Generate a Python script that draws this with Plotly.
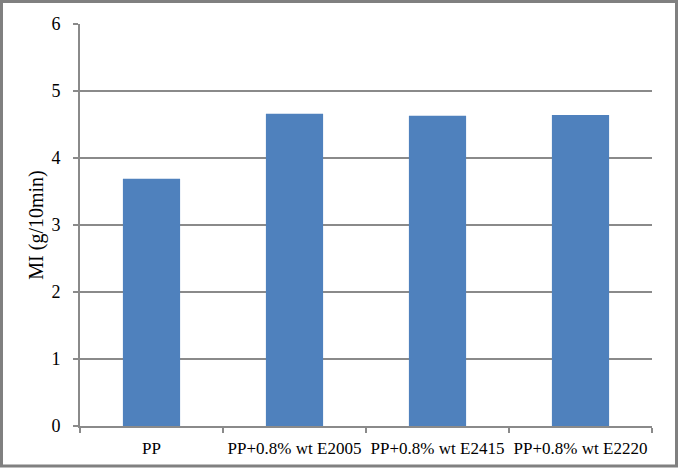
import plotly.graph_objects as go

categories = ["PP", "PP+0.8% wt E2005", "PP+0.8% wt E2415", "PP+0.8% wt E2220"]
mi_values = [3.69, 4.66, 4.63, 4.64]
y_ticks = [0, 1, 2, 3, 4, 5, 6]

W, H = 680, 469
ML, MR, MT, MB = 80, 28, 24, 43
pw, ph = W - ML - MR, H - MT - MB

fig = go.Figure(go.Bar(
    x=categories, y=mi_values,
    marker=dict(color="#4F81BD", line=dict(width=0)),
    width=0.4,
))

font = "Liberation Serif, Times New Roman, serif"
grid = "#8A8A8A"

fig.update_layout(
    width=W, height=H,
    margin=dict(l=ML, r=MR, t=MT, b=MB, autoexpand=False),
    paper_bgcolor="white", plot_bgcolor="white",
    showlegend=False,
    font=dict(family=font, color="black"),
    xaxis=dict(
        type="category", tickson="boundaries", ticks="outside", ticklen=5,
        tickcolor=grid, tickwidth=1.5, showline=True, linecolor=grid, linewidth=2,
        showgrid=False, tickfont=dict(size=17, family=font, color="black"),
        tickangle=0, ticklabelstandoff=6, automargin=False,
    ),
    yaxis=dict(
        range=[0, 6], tickvals=y_ticks, ticks="outside", ticklen=5,
        tickcolor=grid, tickwidth=1.5, showline=True, linecolor=grid, linewidth=2,
        showgrid=True, gridcolor=grid, gridwidth=2, zeroline=False,
        tickfont=dict(size=18, family=font, color="black"),
        ticklabelstandoff=9, automargin=False,
        title=dict(text="MI (g/10min)", font=dict(size=20, family=font, color="black"), standoff=2),
    ),
    shapes=[dict(
        type="rect", xref="paper", yref="paper",
        x0=(1.5 - ML) / pw, x1=1 + (MR - 3.5) / pw,
        y0=-(MB - 3) / ph, y1=1 + (MT - 1.5) / ph,
        line=dict(color="#808080", width=3), fillcolor="rgba(0,0,0,0)", layer="above",
    )],
)

fig.write_html("out.html", config={"displayModeBar": False},
               post_script="document.body.style.margin='0px';")
